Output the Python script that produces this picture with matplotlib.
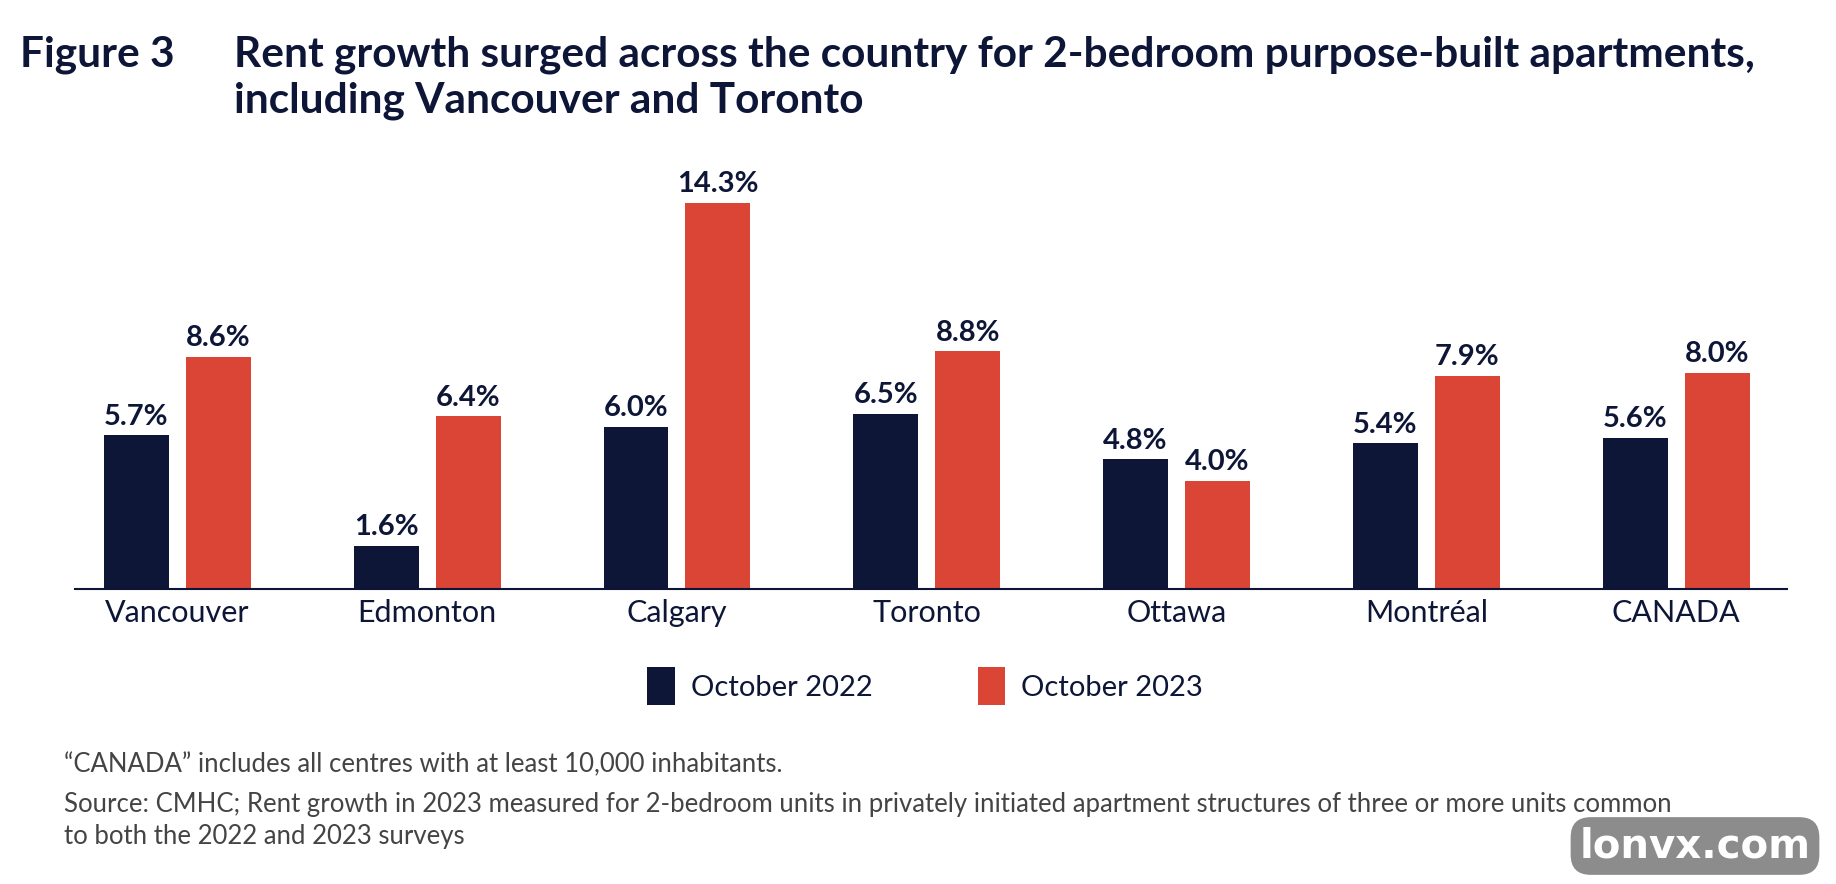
import matplotlib
matplotlib.use("Agg")
import matplotlib.pyplot as plt
import numpy as np

# data
cities = ["Vancouver", "Edmonton", "Calgary", "Toronto", "Ottawa", "Montréal", "CANADA"]
oct_2022 = [5.7, 1.6, 6.0, 6.5, 4.8, 5.4, 5.6]
oct_2023 = [8.6, 6.4, 14.3, 8.8, 4.0, 7.9, 8.0]
series_names = ["October 2022", "October 2023"]

navy = "#0e1638"
red = "#db4535"
grey = "#3c3c3c"

plt.rcParams["font.family"] = ["Lato", "DejaVu Sans"]

W, H = 1836, 884
fig = plt.figure(figsize=(W / 100, H / 100), dpi=100)

def px(x, y):
    return x / W, 1 - y / H

# axes: baseline at y=589 px, from x=75 to 1787
ax = fig.add_axes([75 / W, (H - 589) / H, (1787 - 75) / W, 432 / H])

x = np.arange(len(cities))
w = 0.26
off = 0.164
b1 = ax.bar(x - off, oct_2022, w, color=navy, label=series_names[0])
b2 = ax.bar(x + off, oct_2023, w, color=red, label=series_names[1])

for bars, vals in [(b1, oct_2022), (b2, oct_2023)]:
    for b, v in zip(bars, vals):
        ax.annotate(f"{v:.1f}%", (b.get_x() + b.get_width() / 2, v),
                    xytext=(0, 4), textcoords="offset points",
                    ha="center", va="bottom", fontsize=21, fontweight="bold", color=navy)

ax.set_xlim(-0.41, 6.444)
ax.set_ylim(0, 16)
ax.set_xticks(x)
ax.set_xticklabels(cities, fontsize=22, color=navy)
ax.tick_params(axis="x", length=0, pad=7)
ax.set_yticks([])
for s in ["top", "right", "left"]:
    ax.spines[s].set_visible(False)
ax.spines["bottom"].set_color(navy)
ax.spines["bottom"].set_linewidth(1.5)

# legend
leg = fig.legend(handles=[b1, b2], labels=series_names, loc="center",
                 bbox_to_anchor=px(925, 686), ncol=2, frameon=False,
                 fontsize=21, handlelength=0.95, handleheight=1.6,
                 handletextpad=0.55, columnspacing=3.6)
for t in leg.get_texts():
    t.set_color(navy)

# title
fig.text(*px(20, 67), "Figure 3", fontsize=30.5, fontweight="bold", color=navy, va="baseline")
fig.text(*px(234, 67), "Rent growth surged across the country for 2-bedroom purpose-built apartments,",
         fontsize=30.5, fontweight="bold", color=navy, va="baseline")
fig.text(*px(234, 112), "including Vancouver and Toronto",
         fontsize=30.5, fontweight="bold", color=navy, va="baseline")

# footnotes
fn = dict(fontsize=18.5, color="#444444", va="baseline")
fig.text(*px(64, 772), "\u201cCANADA\u201d includes all centres with at least 10,000 inhabitants.", **fn)
fig.text(*px(64, 812), "Source: CMHC; Rent growth in 2023 measured for 2-bedroom units in privately initiated apartment structures of three or more units common", **fn)
fig.text(*px(64, 844), "to both the 2022 and 2023 surveys", **fn)

# watermark
fig.text(*px(1695, 846), "lonvx.com", fontsize=29, fontweight="bold", color="white",
         family="DejaVu Sans", ha="center", va="center",
         bbox=dict(boxstyle="round,pad=0.22,rounding_size=0.5", fc="#8c8c8c", ec="none"))

fig.savefig("out.png", dpi=100)
